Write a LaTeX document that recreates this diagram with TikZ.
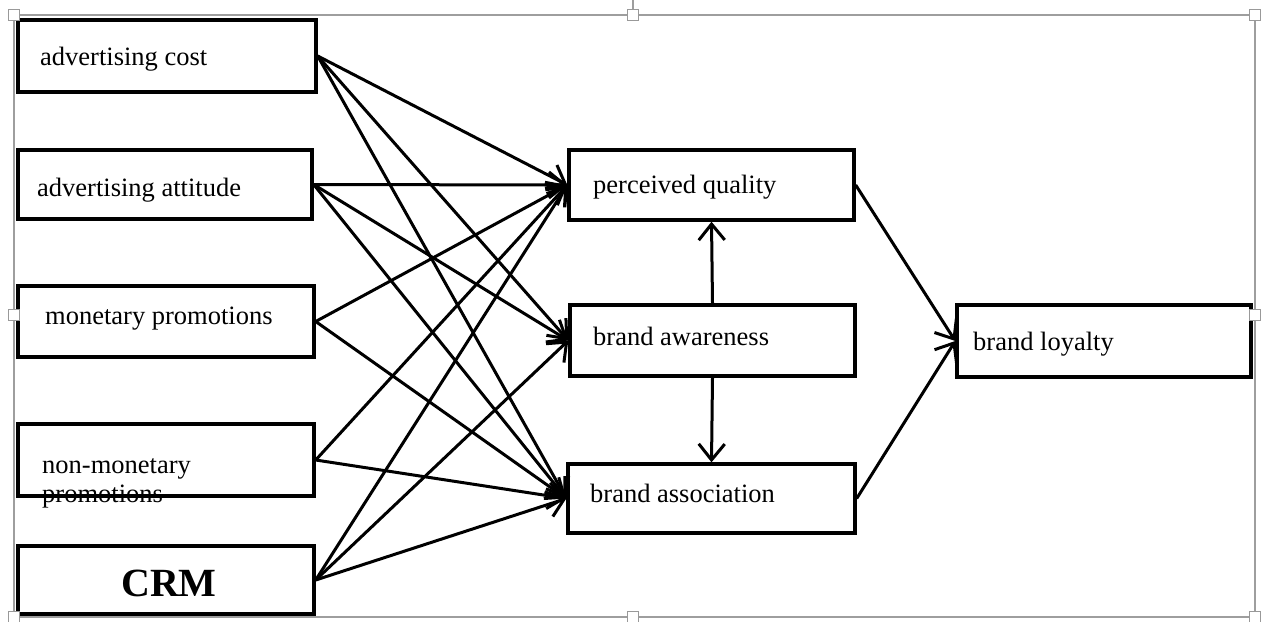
\documentclass[tikz,border=0pt]{standalone}
\usepackage{fontspec}
\setmainfont{Liberation Serif}
\usetikzlibrary{arrows.meta}
\tikzset{
  box/.style={draw=black, line width=3.4pt, fill=none, inner sep=0pt},
  lbl/.style={inner sep=0pt, anchor=base west, font=\fontsize{26.5}{30}\selectfont},
  crmlbl/.style={inner sep=0pt, anchor=base west, font=\fontsize{40}{44}\selectfont\bfseries},
  link/.style={line width=3pt, -{Straight Barb[length=16pt, width=26pt, line width=3pt]}},
  frameline/.style={draw=black!38, line width=1.4pt},
  handle/.style={draw=black!40, fill=white, line width=1pt, minimum size=11pt, inner sep=0pt}
}
\begin{document}
\begin{tikzpicture}[x=1pt, y=-1pt]
\useasboundingbox (0,0) rectangle (1271,621);
% selection frame
\draw[frameline] (633,0) -- (633,15);
\draw[frameline] (14,15) rectangle (1255,617);
% boxes
\node[box, minimum width=298pt, minimum height=72pt] (ac)  at (167,56) {};
\node[box, minimum width=294pt, minimum height=69pt] (aa)  at (165,184.5) {};
\node[box, minimum width=296pt, minimum height=71pt] (mp)  at (166,321.5) {};
\node[box, minimum width=296pt, minimum height=72pt] (nm)  at (166,460) {};
\node[box, minimum width=296pt, minimum height=68pt] (crm) at (166,580) {};
\node[box, minimum width=285pt, minimum height=70pt] (pq)  at (711.5,185) {};
\node[box, minimum width=285pt, minimum height=71pt] (baw) at (712.5,340.5) {};
\node[box, minimum width=287pt, minimum height=69pt] (bas) at (711.5,498.5) {};
\node[box, minimum width=294pt, minimum height=72pt] (bl)  at (1104,341) {};
% labels
\node[lbl] (tac)  at (40,65)   {advertising cost};
\node[lbl] (taa)  at (37,196)  {advertising attitude};
\node[lbl] (tmp)  at (45,324)  {monetary promotions};
\node[lbl] (tnm1) at (42,473)  {non-monetary};
\node[lbl] (tnm2) at (42,502)  {promotions};
\node[crmlbl] (tcrm) at (121,596) {CRM};
\node[lbl] (tpq)  at (593,193) {perceived quality};
\node[lbl] (tbaw) at (593,345) {brand awareness};
\node[lbl] (tbas) at (590,502) {brand association};
\node[lbl] (tbl)  at (973,350) {brand loyalty};
% connectors
\draw[link] (ac.east) -- (pq.west);
\draw[link] (ac.east) -- (baw.west);
\draw[link] (ac.east) -- (bas.west);
\draw[link] (aa.east) -- (pq.west);
\draw[link] (aa.east) -- (baw.west);
\draw[link] (aa.east) -- (bas.west);
\draw[link] (mp.east) -- (pq.west);
\draw[link] (mp.east) -- (bas.west);
\draw[link] (nm.east) -- (pq.west);
\draw[link] (nm.east) -- (bas.west);
\draw[link] (crm.east) -- (pq.west);
\draw[link] (crm.east) -- (baw.west);
\draw[link] (crm.east) -- (bas.west);
\draw[link] (baw.north) -- (pq.south);
\draw[link] (baw.south) -- (bas.north);
\draw[link] (pq.east) -- (bl.west);
\draw[link] (bas.east) -- (bl.west);
% handles
\node[handle] (h1) at (14,15) {};
\node[handle] (h2) at (633,15) {};
\node[handle] (h3) at (1255,15) {};
\node[handle] (h4) at (14,315) {};
\node[handle] (h5) at (1255,315) {};
\node[handle] (h6) at (14,617) {};
\node[handle] (h7) at (633,617) {};
\node[handle] (h8) at (1255,617) {};
\end{tikzpicture}
\end{document}
